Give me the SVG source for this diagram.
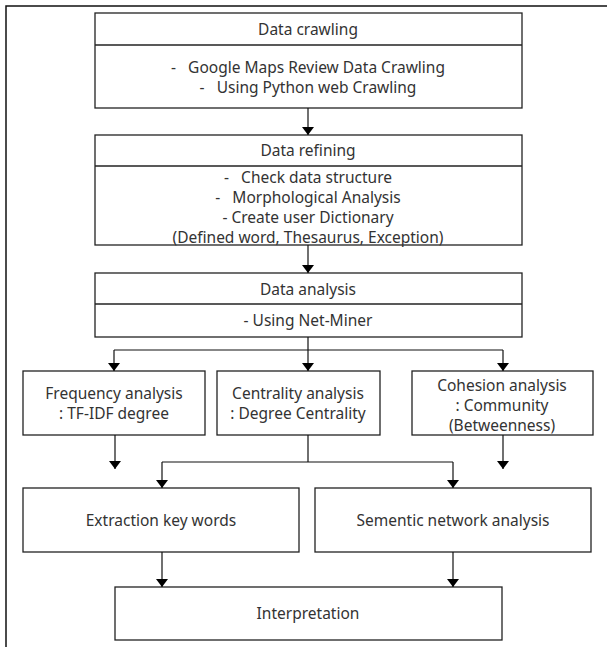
<svg xmlns="http://www.w3.org/2000/svg" width="607" height="647" viewBox="0 0 607 647">
<defs>
<marker id="ah" markerUnits="userSpaceOnUse" markerWidth="10" markerHeight="14" refX="9" refY="7" orient="auto" viewBox="0 0 10 14">
<polygon points="1,1 9,7 1,13" fill="#000"/>
</marker>
</defs>
<style>
rect{fill:#fff;stroke:#222;stroke-width:1.3}
.div{stroke:#222;stroke-width:1.3}
text{font-family:"Noto Sans","Open Sans","Liberation Sans",sans-serif;font-size:15.5px;fill:#333;text-anchor:middle;dominant-baseline:central;white-space:pre}
.c{fill:none;stroke:#111;stroke-width:1.2}
.a{marker-end:url(#ah)}
</style>
<g id="frame"><path d="M6,647 V6 H607" fill="none" stroke="#111" stroke-width="1.5"/></g>
<g id="crawling">
<rect x="95" y="13" width="427" height="95"/>
<line class="div" x1="95" y1="45" x2="522" y2="45"/>
<text x="308" y="29">Data crawling</text>
<text x="308" y="67" xml:space="preserve">-   Google Maps Review Data Crawling</text>
<text x="308" y="87" xml:space="preserve">-   Using Python web Crawling</text>
</g>
<g id="refining">
<rect x="95" y="135" width="427" height="110"/>
<line class="div" x1="95" y1="166" x2="522" y2="166"/>
<text x="308" y="150">Data refining</text>
<text x="308" y="177" xml:space="preserve">-   Check data structure</text>
<text x="308" y="197" xml:space="preserve">-   Morphological Analysis</text>
<text x="308" y="217">- Create user Dictionary</text>
<text x="308" y="237">(Defined word, Thesaurus, Exception)</text>
</g>
<g id="analysis">
<rect x="95" y="273" width="427" height="64"/>
<line class="div" x1="95" y1="304" x2="522" y2="304"/>
<text x="308" y="289">Data analysis</text>
<text x="308" y="320">- Using Net-Miner</text>
</g>
<g id="frequency">
<rect x="23" y="371" width="182" height="64"/>
<text x="114" y="393">Frequency analysis</text>
<text x="114" y="413">: TF-IDF degree</text>
</g>
<g id="centrality">
<rect x="217" y="371" width="163" height="64"/>
<text x="298" y="393">Centrality analysis</text>
<text x="298" y="413">: Degree Centrality</text>
</g>
<g id="cohesion">
<rect x="412" y="371" width="181" height="64"/>
<text x="502" y="385">Cohesion analysis</text>
<text x="502" y="405">: Community</text>
<text x="502" y="425">(Betweenness)</text>
</g>
<g id="extraction">
<rect x="23" y="488" width="276" height="64"/>
<text x="161" y="520">Extraction key words</text>
</g>
<g id="semantic">
<rect x="315" y="488" width="276" height="64"/>
<text x="453" y="520">Sementic network analysis</text>
</g>
<g id="interpretation">
<rect x="115" y="587" width="387" height="53"/>
<text x="308" y="613">Interpretation</text>
</g>
<g id="connectors">
<line class="c a" x1="308" y1="108" x2="308" y2="135"/>
<line class="c a" x1="308" y1="245" x2="308" y2="273"/>
<path class="c" d="M308,337 V350 M114,350 H503"/>
<line class="c a" x1="114" y1="350" x2="114" y2="371"/>
<line class="c a" x1="308" y1="350" x2="308" y2="371"/>
<line class="c a" x1="503" y1="350" x2="503" y2="371"/>
<line class="c a" x1="115" y1="435" x2="115" y2="469"/>
<line class="c a" x1="503" y1="435" x2="503" y2="469"/>
<path class="c" d="M308,435 V462 M162,462 H453"/>
<line class="c a" x1="162" y1="462" x2="162" y2="488"/>
<line class="c a" x1="453" y1="462" x2="453" y2="488"/>
<line class="c a" x1="162" y1="552" x2="162" y2="587"/>
<line class="c a" x1="453" y1="552" x2="453" y2="587"/>
</g>
</svg>
